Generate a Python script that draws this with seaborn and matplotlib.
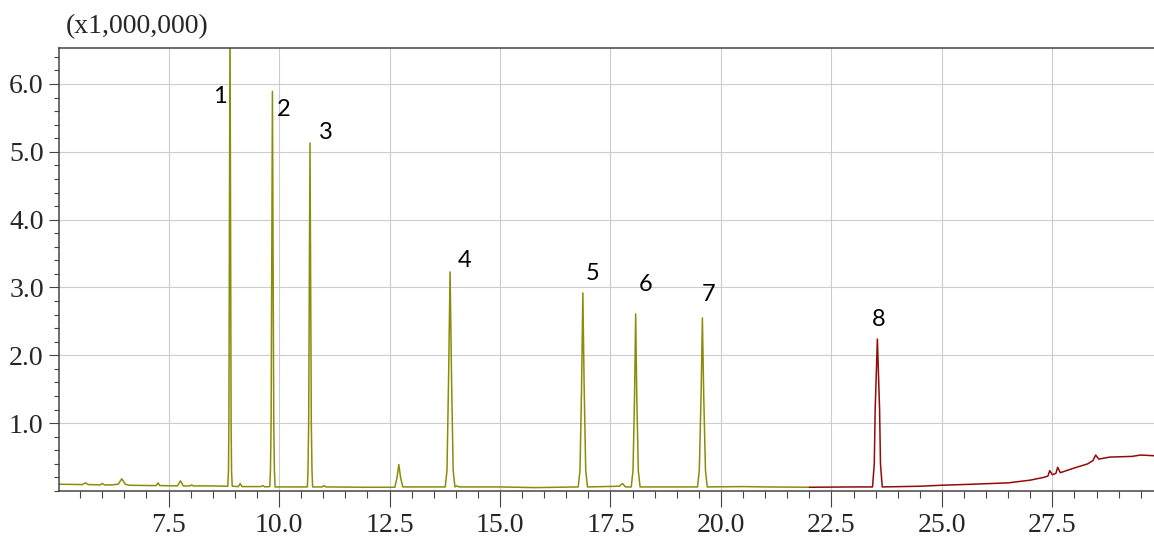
"""
GC chromatogram, two detector segments, peaks numbered 1-8.
"""
import numpy as np
import pandas as pd
import matplotlib
matplotlib.use("Agg")
import matplotlib.pyplot as plt
import seaborn as sns
from matplotlib.ticker import MultipleLocator, FixedLocator

# retention time (min) and intensity (x1,000,000)
olive_time = [5.00, 5.55, 5.62, 5.68, 5.95, 6.00, 6.05, 6.20, 6.36, 6.44, 6.52, 6.60,
              7.10, 7.22, 7.26, 7.30, 7.70, 7.77, 7.83, 7.98, 8.02, 8.06, 8.50,
              8.84, 8.855, 8.865, 8.89, 8.915, 8.925, 8.94,
              9.08, 9.12, 9.16, 9.58, 9.63, 9.68,
              9.79, 9.805, 9.82, 9.85, 9.88, 9.895, 9.91,
              10.64, 10.655, 10.67, 10.70, 10.73, 10.745, 10.76,
              10.98, 11.02, 11.06, 12.00,
              12.62, 12.67, 12.71, 12.75, 12.80,
              13.76, 13.80, 13.835, 13.87, 13.905, 13.94, 13.98,
              14.02, 14.08, 15.00, 15.80, 16.30,
              16.77, 16.81, 16.845, 16.875, 16.905, 16.94, 16.98,
              17.70, 17.77, 17.84,
              17.97, 18.01, 18.045, 18.07, 18.095, 18.13, 18.17,
              19.47, 19.51, 19.55, 19.58, 19.61, 19.65, 19.69,
              20.50, 21.00, 22.00]
olive_signal = [0.10, 0.095, 0.12, 0.095, 0.09, 0.11, 0.09, 0.09, 0.10, 0.18, 0.10, 0.085,
                0.08, 0.08, 0.12, 0.08, 0.075, 0.15, 0.075, 0.075, 0.09, 0.075, 0.075,
                0.07, 0.30, 1.00, 7.00, 1.00, 0.30, 0.07,
                0.065, 0.11, 0.065, 0.065, 0.08, 0.06,
                0.065, 0.30, 1.00, 5.89, 1.00, 0.30, 0.06,
                0.06, 0.30, 1.00, 5.13, 1.00, 0.30, 0.06,
                0.06, 0.08, 0.06, 0.055,
                0.055, 0.20, 0.39, 0.20, 0.06,
                0.06, 0.30, 1.60, 3.23, 1.60, 0.30, 0.06,
                0.075, 0.06, 0.06, 0.05, 0.055,
                0.06, 0.30, 1.50, 2.92, 1.50, 0.30, 0.06,
                0.07, 0.11, 0.06,
                0.06, 0.30, 1.40, 2.61, 1.40, 0.30, 0.06,
                0.06, 0.30, 1.40, 2.55, 1.40, 0.30, 0.06,
                0.065, 0.06, 0.055]

red_time = [22.00, 23.00, 23.43, 23.47, 23.49, 23.54, 23.59, 23.61, 23.65,
            24.50, 25.00, 25.70, 26.50, 27.00, 27.30, 27.40, 27.44, 27.50,
            27.58, 27.62, 27.68, 28.00, 28.30, 28.42, 28.48, 28.55,
            28.80, 29.30, 29.50, 29.80]
red_signal = [0.055, 0.06, 0.06, 0.40, 1.20, 2.24, 1.20, 0.40, 0.06,
              0.07, 0.085, 0.10, 0.12, 0.16, 0.20, 0.22, 0.30, 0.24,
              0.26, 0.35, 0.27, 0.34, 0.40, 0.45, 0.53, 0.47,
              0.50, 0.51, 0.53, 0.52]

peak_labels = ["1", "2", "3", "4", "5", "6", "7", "8"]
label_time = [8.66, 10.11, 11.06, 14.19, 17.09, 18.29, 19.71, 23.57]
label_signal = [5.82, 5.63, 5.29, 3.40, 3.21, 3.04, 2.89, 2.53]

x_major = [7.5, 10.0, 12.5, 15.0, 17.5, 20.0, 22.5, 25.0, 27.5]
y_major = [1.0, 2.0, 3.0, 4.0, 5.0, 6.0]

OLIVE = "#8c8c0a"
DARK_RED = "#930a0a"
SPINE = "#454545"

sns.set_style("white")
plt.rcParams['font.family'] = ['Liberation Serif', 'DejaVu Serif']

olive_df = pd.DataFrame({'Time': olive_time, 'Signal': olive_signal})
red_df = pd.DataFrame({'Time': red_time, 'Signal': red_signal})

fig = plt.figure(figsize=(11.54, 5.42), dpi=100)
ax = fig.add_axes([59 / 1154, 51 / 542, 1 - 59 / 1154, 443 / 542])

sns.lineplot(data=olive_df, x='Time', y='Signal', ax=ax, color=OLIVE,
             linewidth=1.1, estimator=None)
sns.lineplot(data=red_df, x='Time', y='Signal', ax=ax, color=DARK_RED,
             linewidth=1.1, estimator=None)

for lab, t, s in zip(peak_labels, label_time, label_signal):
    ax.text(t, s, lab, ha='center', va='center', fontsize=17,
            family=['Lato', 'DejaVu Sans'], color='black')

ax.set_xlim(5.02, 29.8)
ax.set_ylim(0, 6.53)

ax.xaxis.set_major_locator(FixedLocator(x_major))
ax.xaxis.set_minor_locator(MultipleLocator(0.5))
ax.yaxis.set_major_locator(FixedLocator(y_major))
ax.yaxis.set_minor_locator(MultipleLocator(0.2))
ax.set_xticklabels([f"{v:.1f}" for v in x_major])
ax.set_yticklabels([f"{v:.1f}" for v in y_major])

ax.tick_params(axis='x', which='major', direction='out', length=11.5, width=0.8,
               color=SPINE, labelsize=20, pad=4, bottom=True)
ax.tick_params(axis='x', which='minor', direction='out', length=5, width=0.8,
               color=SPINE, bottom=True)
ax.tick_params(axis='y', which='major', direction='out', length=7, width=0.8,
               color=SPINE, labelsize=20, pad=4, left=True)
ax.tick_params(axis='y', which='minor', direction='out', length=3.6, width=0.8,
               color=SPINE, left=True)

ax.grid(True, which='major', color='#cccccc', linewidth=0.8)
ax.set_axisbelow(True)

for side in ['left', 'bottom', 'top']:
    ax.spines[side].set_color(SPINE)
    ax.spines[side].set_linewidth(1.1)
ax.spines['right'].set_visible(False)

ax.set_xlabel('')
ax.set_ylabel('')

fig.text(137 / 1154, 1 - 27 / 542, "(x1,000,000)", ha='center', va='center',
         fontsize=20)

fig.savefig('out.png', dpi=100)
plt.close(fig)
